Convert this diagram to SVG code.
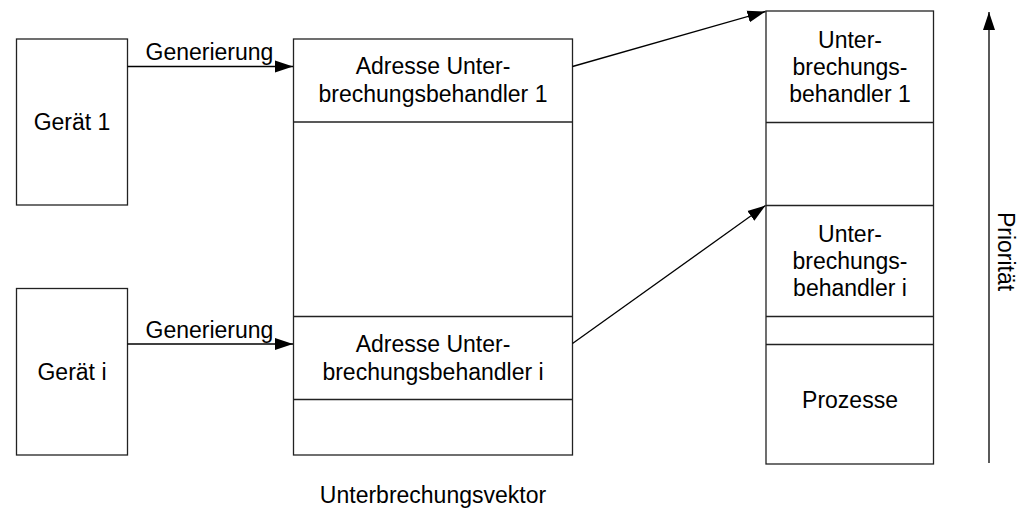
<svg xmlns="http://www.w3.org/2000/svg" width="1019" height="508" viewBox="0 0 1019 508">
  <style>
    .box { fill: #ffffff; stroke: #222222; stroke-width: 1.3; }
    .sep { stroke: #222222; stroke-width: 1.3; fill: none; }
    .wire { stroke: #000000; stroke-width: 1.3; fill: none; }
    text { font-family: "Liberation Sans", Arial, sans-serif; font-size: 23px; fill: #000000; }
    .c { text-anchor: middle; }
  </style>
  <defs>
    <marker id="head" markerUnits="userSpaceOnUse" markerWidth="20" markerHeight="14" refX="18" refY="6.5" orient="auto">
      <path d="M0,0.5 L18,6.5 L0,12.5 Z" fill="#000000"/>
    </marker>
  </defs>
  <rect width="1019" height="508" fill="#ffffff"/>

  <!-- devices -->
  <g id="geraet1">
    <rect class="box" x="16.5" y="39" width="111" height="166"/>
    <text class="c" x="72" y="130">Gerät 1</text>
  </g>
  <g id="geraeti">
    <rect class="box" x="16.5" y="288.5" width="111" height="166.5"/>
    <text class="c" x="72" y="379.5">Gerät i</text>
  </g>

  <!-- interrupt vector table -->
  <g id="vektor">
    <rect class="box" x="293.5" y="39" width="279" height="416"/>
    <line class="sep" x1="293.5" y1="122" x2="572.5" y2="122"/>
    <line class="sep" x1="293.5" y1="316.5" x2="572.5" y2="316.5"/>
    <line class="sep" x1="293.5" y1="399.5" x2="572.5" y2="399.5"/>
    <text class="c" x="433" y="74">Adresse Unter-</text>
    <text class="c" x="433" y="101.5">brechungsbehandler 1</text>
    <text class="c" x="433" y="352">Adresse Unter-</text>
    <text class="c" x="433" y="379.5">brechungsbehandler i</text>
    <text class="c" x="433" y="503">Unterbrechungsvektor</text>
  </g>

  <!-- memory with handlers and processes -->
  <g id="speicher">
    <rect class="box" x="766" y="11" width="167.5" height="453"/>
    <line class="sep" x1="766" y1="122.5" x2="933.5" y2="122.5"/>
    <line class="sep" x1="766" y1="205.5" x2="933.5" y2="205.5"/>
    <line class="sep" x1="766" y1="316.5" x2="933.5" y2="316.5"/>
    <line class="sep" x1="766" y1="344.5" x2="933.5" y2="344.5"/>
    <text class="c" x="850" y="47.5">Unter-</text>
    <text class="c" x="850" y="74.5">brechungs-</text>
    <text class="c" x="850" y="101.5">behandler 1</text>
    <text class="c" x="850" y="241.5">Unter-</text>
    <text class="c" x="850" y="268.5">brechungs-</text>
    <text class="c" x="850" y="295.5">behandler i</text>
    <text class="c" x="850" y="407.5">Prozesse</text>
  </g>

  <!-- priority axis -->
  <g id="prioritaet">
    <line class="wire" x1="989" y1="463" x2="989" y2="12" marker-end="url(#head)"/>
    <text class="c" transform="translate(998,251.5) rotate(90)">Priorität</text>
  </g>

  <!-- connectors -->
  <g id="connectors">
    <line class="wire" x1="127.5" y1="66.5" x2="293" y2="66.5" marker-end="url(#head)"/>
    <text x="145.5" y="60">Generierung</text>
    <line class="wire" x1="127.5" y1="344" x2="293" y2="344" marker-end="url(#head)"/>
    <text x="145.5" y="337.5">Generierung</text>
    <line class="wire" x1="572.5" y1="66.5" x2="765.5" y2="11.5" marker-end="url(#head)"/>
    <line class="wire" x1="572.5" y1="343.5" x2="765.5" y2="205.5" marker-end="url(#head)"/>
  </g>
</svg>
